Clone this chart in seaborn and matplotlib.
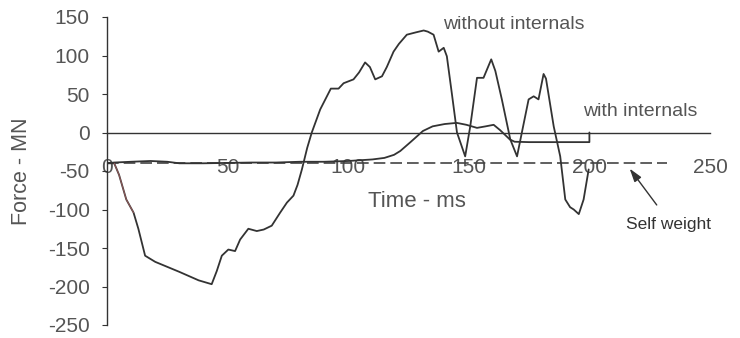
import matplotlib
matplotlib.use("Agg")
import matplotlib.pyplot as plt
import seaborn as sns
import pandas as pd

# ---- data ----
t_without = [0, 3, 5, 8, 11, 13, 15.8, 20, 30, 38, 43.4, 45.5, 47.6, 50.3, 53.1, 55.2,
             58.6, 62.1, 65, 68.3, 71.8, 74.6, 77.3, 79, 80.8, 83, 84.9, 88.4, 92.8, 96,
             98.1, 102.2, 104.5, 107, 109, 111.2, 114, 116, 118.8, 121, 124.3, 128,
             131.3, 133, 135.4, 137.5, 139.6, 140.9, 143, 145.1, 148.5, 150.6, 153.4,
             156.1, 159.3, 161, 163.7, 167.2, 170, 172, 174.8, 176.9, 178.9, 181, 182,
             185.2, 187.9, 190, 192, 193.5, 195.6, 197.6, 199.7]
f_without = [-40, -40, -55, -87, -104, -125, -160, -168, -181, -192, -197, -180, -160,
             -152, -154, -139, -125, -128, -126, -121, -104, -91, -82, -68, -48, -20, 0,
             30, 57, 57, 64, 69, 78, 91, 85, 69, 73, 85, 105, 115, 127, 130, 132.5, 131,
             127, 105, 110, 99, 50, 0, -31, 8, 71, 71, 95, 80, 43, -9, -31, 0, 43, 47,
             43, 76, 70, 8, -31, -87, -97, -100, -106, -87, -48]

t_with = [0, 3, 10, 18, 25, 30, 40, 50, 60, 70, 80, 90, 100, 110, 115, 119, 121.6, 126,
          131, 135, 140, 145, 149, 153.4, 157, 160.3, 163, 167, 169, 175, 185, 200, 200]
f_with = [-40, -39, -38, -37, -38, -40, -40, -39.5, -39, -39, -38, -38, -37, -35, -33,
          -29, -24, -12, 2, 8, 11, 12.5, 10, 6, 8, 10, 3, -9, -12, -12.5, -12.5, -12.5, 0]

t_self = [0, 232]
f_self = [-40, -40]

x_ticks = [0, 50, 100, 150, 200, 250]
y_ticks = [150, 100, 50, 0, -50, -100, -150, -200, -250]

df_without = pd.DataFrame({"t": t_without, "f": f_without})
df_with = pd.DataFrame({"t": t_with, "f": f_with})
df_self = pd.DataFrame({"t": t_self, "f": f_self})
df_red = df_without.iloc[1:5]

sns.set_style("white")
plt.rcParams["font.family"] = ["Liberation Sans", "DejaVu Sans"]

LINE = "#333333"
TXT = "#555555"

fig = plt.figure(figsize=(7.4, 3.38), dpi=100)
ax = fig.add_axes([107 / 740, 13 / 338, 603 / 740, 308 / 338])

sns.lineplot(data=df_self, x="t", y="f", ax=ax, color="#444444", lw=1.2,
             linestyle=(0, (7, 3)), estimator=None, sort=False)
sns.lineplot(data=df_with, x="t", y="f", ax=ax, color=LINE, lw=1.3,
             estimator=None, sort=False)
sns.lineplot(data=df_without, x="t", y="f", ax=ax, color=LINE, lw=1.3,
             estimator=None, sort=False)
sns.lineplot(data=df_red, x="t", y="f", ax=ax, color="#c87070", lw=0.8,
             estimator=None, sort=False, alpha=0.6)

ax.set_xlim(0, 250)
ax.set_ylim(-250, 150)
ax.set_xticks(x_ticks)
ax.set_yticks(y_ticks)
ax.set_xticklabels([str(v) for v in x_ticks])
ax.set_yticklabels([str(v) for v in y_ticks])

for s in ["top", "right"]:
    ax.spines[s].set_visible(False)
ax.spines["bottom"].set_position(("data", 0))
ax.spines["bottom"].set_color(LINE)
ax.spines["left"].set_color(LINE)
ax.spines["bottom"].set_linewidth(1.0)
ax.spines["left"].set_linewidth(1.0)

ax.tick_params(axis="x", direction="in", length=3.5, width=0.8, color=LINE,
               pad=18.5, labelsize=15, labelcolor=TXT)
ax.tick_params(axis="y", direction="out", length=3.5, width=0.8, color=LINE,
               pad=9, labelsize=15, labelcolor=TXT, left=True)

ax.set_xlabel("Time - ms", fontsize=16, color=TXT)
ax.set_ylabel("Force - MN", fontsize=15.5, color=TXT)
ax.xaxis.set_label_coords(0.514, 0.435)
ax.yaxis.set_label_coords(-0.124, 0.5)

ax.text(168.5, 140, "without internals", fontsize=14, color=TXT,
        ha="center", va="center")
ax.text(221, 27, "with internals", fontsize=14, color=TXT,
        ha="center", va="center")
ax.text(233, -120, "Self weight", fontsize=12.5, color="#333333",
        ha="center", va="center")
ax.annotate("", xy=(216, -44), xytext=(228.6, -97),
            arrowprops=dict(arrowstyle="-|>,head_length=0.8,head_width=0.25",
                            color="#333333", lw=1.0))

ax.grid(False)
fig.savefig("out.png", dpi=100)
